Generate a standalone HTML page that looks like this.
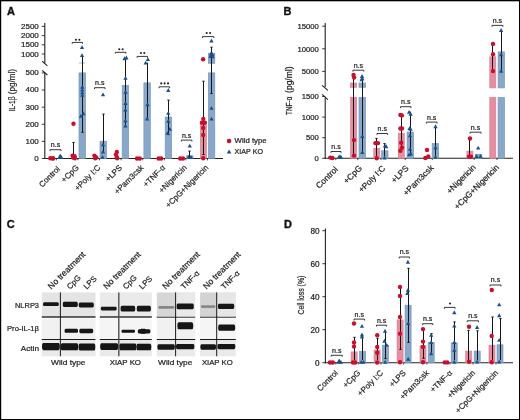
<!DOCTYPE html>
<html><head><meta charset="utf-8"><style>
html,body{margin:0;padding:0;background:#fff;}
body{width:520px;height:420px;overflow:hidden;}
svg{display:block;font-family:"Liberation Sans", sans-serif;will-change:transform;}
text{stroke:#1e1e1e;stroke-width:0.22px;}
text[font-weight=bold]{stroke-width:0.35px;stroke:#111;}
</style></head><body>
<svg width="520" height="420" viewBox="0 0 520 420">
<rect x="0" y="0" width="520" height="420" fill="#fff"/>
<text x="7.00" y="15.00" font-size="11" text-anchor="start" fill="#111" font-weight="bold" >A</text>
<text x="283.50" y="14.80" font-size="11" text-anchor="start" fill="#111" font-weight="bold" >B</text>
<text x="6.80" y="228.20" font-size="11" text-anchor="start" fill="#111" font-weight="bold" >C</text>
<text x="284.00" y="228.20" font-size="11" text-anchor="start" fill="#111" font-weight="bold" >D</text>
<line x1="44.80" y1="23.00" x2="44.80" y2="63.30" stroke="#222" stroke-width="1.1"/>
<line x1="42.10" y1="61.10" x2="47.40" y2="65.90" stroke="#222" stroke-width="1.1"/>
<line x1="42.10" y1="70.40" x2="47.40" y2="75.00" stroke="#222" stroke-width="1.1"/>
<line x1="44.80" y1="72.80" x2="44.80" y2="159.00" stroke="#222" stroke-width="1.1"/>
<line x1="44.30" y1="158.50" x2="223.00" y2="158.50" stroke="#222" stroke-width="1.1"/>
<line x1="41.80" y1="158.50" x2="44.80" y2="158.50" stroke="#222" stroke-width="0.9"/>
<text x="38.80" y="160.95" font-size="8" text-anchor="end" fill="#1e1e1e" >0</text>
<line x1="41.80" y1="141.38" x2="44.80" y2="141.38" stroke="#222" stroke-width="0.9"/>
<text x="38.80" y="143.83" font-size="8" text-anchor="end" fill="#1e1e1e" >100</text>
<line x1="41.80" y1="124.26" x2="44.80" y2="124.26" stroke="#222" stroke-width="0.9"/>
<text x="38.80" y="126.71" font-size="8" text-anchor="end" fill="#1e1e1e" >200</text>
<line x1="41.80" y1="107.14" x2="44.80" y2="107.14" stroke="#222" stroke-width="0.9"/>
<text x="38.80" y="109.59" font-size="8" text-anchor="end" fill="#1e1e1e" >300</text>
<line x1="41.80" y1="90.02" x2="44.80" y2="90.02" stroke="#222" stroke-width="0.9"/>
<text x="38.80" y="92.47" font-size="8" text-anchor="end" fill="#1e1e1e" >400</text>
<line x1="41.80" y1="72.90" x2="44.80" y2="72.90" stroke="#222" stroke-width="0.9"/>
<text x="38.80" y="75.35" font-size="8" text-anchor="end" fill="#1e1e1e" >500</text>
<line x1="41.80" y1="54.00" x2="44.80" y2="54.00" stroke="#222" stroke-width="0.9"/>
<text x="38.80" y="56.55" font-size="8" text-anchor="end" fill="#1e1e1e" >1000</text>
<line x1="41.80" y1="44.80" x2="44.80" y2="44.80" stroke="#222" stroke-width="0.9"/>
<text x="38.80" y="47.35" font-size="8" text-anchor="end" fill="#1e1e1e" >1500</text>
<line x1="41.80" y1="35.60" x2="44.80" y2="35.60" stroke="#222" stroke-width="0.9"/>
<text x="38.80" y="38.15" font-size="8" text-anchor="end" fill="#1e1e1e" >2000</text>
<line x1="41.80" y1="26.40" x2="44.80" y2="26.40" stroke="#222" stroke-width="0.9"/>
<text x="38.80" y="28.95" font-size="8" text-anchor="end" fill="#1e1e1e" >2500</text>
<text transform="translate(15.30,111.60) rotate(-90)" font-size="9.0" text-anchor="start" fill="#1e1e1e" textLength="15.2" lengthAdjust="spacingAndGlyphs" >IL-1β</text>
<text transform="translate(15.30,94.30) rotate(-90)" font-size="9.0" text-anchor="start" fill="#1e1e1e" textLength="25.4" lengthAdjust="spacingAndGlyphs" >(pg/ml)</text>
<line x1="56.30" y1="158.50" x2="56.30" y2="160.30" stroke="#222" stroke-width="0.8"/>
<line x1="77.90" y1="158.50" x2="77.90" y2="160.30" stroke="#222" stroke-width="0.8"/>
<line x1="99.50" y1="158.50" x2="99.50" y2="160.30" stroke="#222" stroke-width="0.8"/>
<line x1="121.10" y1="158.50" x2="121.10" y2="160.30" stroke="#222" stroke-width="0.8"/>
<line x1="142.70" y1="158.50" x2="142.70" y2="160.30" stroke="#222" stroke-width="0.8"/>
<line x1="164.30" y1="158.50" x2="164.30" y2="160.30" stroke="#222" stroke-width="0.8"/>
<line x1="185.90" y1="158.50" x2="185.90" y2="160.30" stroke="#222" stroke-width="0.8"/>
<line x1="207.50" y1="158.50" x2="207.50" y2="160.30" stroke="#222" stroke-width="0.8"/>
<text transform="translate(60.50,169.40) rotate(-45)" font-size="8" text-anchor="end" fill="#1e1e1e" >Control</text>
<text transform="translate(79.30,168.10) rotate(-45)" font-size="8" text-anchor="end" fill="#1e1e1e" >+CpG</text>
<text transform="translate(100.90,168.10) rotate(-45)" font-size="8" text-anchor="end" fill="#1e1e1e" >+Poly I:C</text>
<text transform="translate(122.50,168.10) rotate(-45)" font-size="8" text-anchor="end" fill="#1e1e1e" >+LPS</text>
<text transform="translate(144.10,168.10) rotate(-45)" font-size="8" text-anchor="end" fill="#1e1e1e" >+Pam3csk</text>
<text transform="translate(165.70,168.10) rotate(-45)" font-size="8" text-anchor="end" fill="#1e1e1e" >+TNF-α</text>
<text transform="translate(187.30,168.10) rotate(-45)" font-size="8" text-anchor="end" fill="#1e1e1e" >+Nigericin</text>
<text transform="translate(208.90,168.10) rotate(-45)" font-size="8" text-anchor="end" fill="#1e1e1e" >+CpG+Nigericin</text>
<circle cx="50.30" cy="158.30" r="2.2" fill="#c8102e"/>
<circle cx="52.80" cy="158.60" r="2.2" fill="#c8102e"/>
<circle cx="53.00" cy="158.20" r="2.2" fill="#c8102e"/>
<path d="M60.20,153.58 L62.35,157.45 L58.05,157.45Z" fill="#1d4f8c"/>
<path d="M59.60,155.18 L61.75,159.05 L57.45,159.05Z" fill="#1d4f8c"/>
<path d="M61.40,155.18 L63.55,159.05 L59.25,159.05Z" fill="#1d4f8c"/>
<path d="M50.00,151.10 L50.00,149.70 L61.00,149.70 L61.00,151.10" fill="none" stroke="#222" stroke-width="0.9"/>
<text x="55.50" y="147.30" font-size="7" text-anchor="middle" fill="#1e1e1e" >n.s</text>
<line x1="73.50" y1="142.50" x2="73.50" y2="157.50" stroke="#151515" stroke-width="1.0"/>
<line x1="72.35" y1="142.50" x2="74.65" y2="142.50" stroke="#151515" stroke-width="1.0"/>
<circle cx="73.50" cy="123.75" r="2.2" fill="#c8102e"/>
<circle cx="72.60" cy="155.60" r="2.2" fill="#c8102e"/>
<circle cx="74.60" cy="156.20" r="2.2" fill="#c8102e"/>
<circle cx="73.20" cy="157.60" r="2.2" fill="#c8102e"/>
<circle cx="74.80" cy="158.20" r="2.2" fill="#c8102e"/>
<rect x="79.00" y="72.90" width="6.40" height="85.60" fill="#89a8c9" stroke="#7397bd" stroke-width="0.7" />
<rect x="79.00" y="62.40" width="6.40" height="1.20" fill="#b5c8de" />
<line x1="82.50" y1="55.80" x2="82.50" y2="132.30" stroke="#151515" stroke-width="1.0"/>
<line x1="81.35" y1="132.30" x2="83.65" y2="132.30" stroke="#151515" stroke-width="1.0"/>
<path d="M82.00,45.18 L84.15,49.05 L79.85,49.05Z" fill="#1d4f8c"/>
<path d="M82.00,53.18 L84.15,57.05 L79.85,57.05Z" fill="#1d4f8c"/>
<path d="M82.30,84.78 L84.45,88.65 L80.15,88.65Z" fill="#1d4f8c"/>
<path d="M82.30,87.68 L84.45,91.55 L80.15,91.55Z" fill="#1d4f8c"/>
<path d="M82.30,90.48 L84.45,94.35 L80.15,94.35Z" fill="#1d4f8c"/>
<path d="M82.30,92.88 L84.45,96.75 L80.15,96.75Z" fill="#1d4f8c"/>
<path d="M80.90,113.88 L83.05,117.75 L78.75,117.75Z" fill="#1d4f8c"/>
<path d="M83.40,111.28 L85.55,115.15 L81.25,115.15Z" fill="#1d4f8c"/>
<path d="M72.20,43.80 L72.20,42.40 L82.50,42.40 L82.50,43.80" fill="none" stroke="#222" stroke-width="0.9"/>
<circle cx="75.95" cy="39.70" r="1.05" fill="#222"/>
<circle cx="79.35" cy="39.70" r="1.05" fill="#222"/>
<circle cx="94.40" cy="155.60" r="2.2" fill="#c8102e"/>
<circle cx="96.30" cy="157.40" r="2.2" fill="#c8102e"/>
<circle cx="95.20" cy="158.30" r="2.2" fill="#c8102e"/>
<rect x="100.00" y="141.25" width="6.40" height="17.25" fill="#89a8c9" stroke="#7397bd" stroke-width="0.7" />
<line x1="103.50" y1="114.10" x2="103.50" y2="152.00" stroke="#151515" stroke-width="1.0"/>
<line x1="102.35" y1="114.10" x2="104.65" y2="114.10" stroke="#151515" stroke-width="1.0"/>
<path d="M103.00,92.48 L105.15,96.35 L100.85,96.35Z" fill="#1d4f8c"/>
<path d="M103.00,142.48 L105.15,146.35 L100.85,146.35Z" fill="#1d4f8c"/>
<path d="M103.00,149.68 L105.15,153.55 L100.85,153.55Z" fill="#1d4f8c"/>
<path d="M102.50,154.98 L104.65,158.85 L100.35,158.85Z" fill="#1d4f8c"/>
<path d="M94.50,89.10 L94.50,87.70 L105.00,87.70 L105.00,89.10" fill="none" stroke="#222" stroke-width="0.9"/>
<text x="99.75" y="85.10" font-size="7" text-anchor="middle" fill="#1e1e1e" >n.s</text>
<circle cx="116.80" cy="152.00" r="2.2" fill="#c8102e"/>
<circle cx="115.90" cy="154.60" r="2.2" fill="#c8102e"/>
<circle cx="116.80" cy="157.30" r="2.2" fill="#c8102e"/>
<circle cx="117.20" cy="158.30" r="2.2" fill="#c8102e"/>
<rect x="122.20" y="85.50" width="6.40" height="73.00" fill="#89a8c9" stroke="#7397bd" stroke-width="0.7" />
<line x1="125.50" y1="58.60" x2="125.50" y2="126.50" stroke="#151515" stroke-width="1.0"/>
<path d="M124.60,56.28 L126.75,60.15 L122.45,60.15Z" fill="#1d4f8c"/>
<path d="M126.40,55.58 L128.55,59.45 L124.25,59.45Z" fill="#1d4f8c"/>
<path d="M125.50,75.88 L127.65,79.75 L123.35,79.75Z" fill="#1d4f8c"/>
<path d="M125.50,89.78 L127.65,93.65 L123.35,93.65Z" fill="#1d4f8c"/>
<path d="M125.50,101.08 L127.65,104.95 L123.35,104.95Z" fill="#1d4f8c"/>
<path d="M125.40,107.68 L127.55,111.55 L123.25,111.55Z" fill="#1d4f8c"/>
<path d="M125.40,118.38 L127.55,122.25 L123.25,122.25Z" fill="#1d4f8c"/>
<path d="M125.40,123.68 L127.55,127.55 L123.25,127.55Z" fill="#1d4f8c"/>
<path d="M115.40,53.70 L115.40,52.30 L125.90,52.30 L125.90,53.70" fill="none" stroke="#222" stroke-width="0.9"/>
<circle cx="119.25" cy="49.30" r="1.05" fill="#222"/>
<circle cx="122.65" cy="49.30" r="1.05" fill="#222"/>
<circle cx="137.00" cy="158.50" r="2.2" fill="#c8102e"/>
<circle cx="139.80" cy="158.50" r="2.2" fill="#c8102e"/>
<rect x="143.90" y="82.90" width="6.40" height="75.60" fill="#89a8c9" stroke="#7397bd" stroke-width="0.7" />
<line x1="147.50" y1="62.70" x2="147.50" y2="118.90" stroke="#151515" stroke-width="1.0"/>
<path d="M147.90,57.18 L150.05,61.05 L145.75,61.05Z" fill="#1d4f8c"/>
<path d="M145.70,60.68 L147.85,64.55 L143.55,64.55Z" fill="#1d4f8c"/>
<path d="M147.50,102.28 L149.65,106.15 L145.35,106.15Z" fill="#1d4f8c"/>
<path d="M147.10,116.58 L149.25,120.45 L144.95,120.45Z" fill="#1d4f8c"/>
<path d="M137.10,57.80 L137.10,56.40 L147.50,56.40 L147.50,57.80" fill="none" stroke="#222" stroke-width="0.9"/>
<circle cx="140.90" cy="53.00" r="1.05" fill="#222"/>
<circle cx="144.30" cy="53.00" r="1.05" fill="#222"/>
<circle cx="158.60" cy="158.50" r="2.2" fill="#c8102e"/>
<circle cx="161.20" cy="158.50" r="2.2" fill="#c8102e"/>
<rect x="165.20" y="117.00" width="6.40" height="41.50" fill="#89a8c9" stroke="#7397bd" stroke-width="0.7" />
<line x1="168.50" y1="100.10" x2="168.50" y2="134.60" stroke="#151515" stroke-width="1.0"/>
<line x1="167.35" y1="100.10" x2="169.65" y2="100.10" stroke="#151515" stroke-width="1.0"/>
<line x1="167.35" y1="134.60" x2="169.65" y2="134.60" stroke="#151515" stroke-width="1.0"/>
<path d="M168.30,88.08 L170.45,91.95 L166.15,91.95Z" fill="#1d4f8c"/>
<path d="M168.30,110.98 L170.45,114.85 L166.15,114.85Z" fill="#1d4f8c"/>
<path d="M168.30,118.98 L170.45,122.85 L166.15,122.85Z" fill="#1d4f8c"/>
<path d="M169.90,126.98 L172.05,130.85 L167.75,130.85Z" fill="#1d4f8c"/>
<path d="M167.50,130.98 L169.65,134.85 L165.35,134.85Z" fill="#1d4f8c"/>
<path d="M159.10,88.20 L159.10,86.80 L169.60,86.80 L169.60,88.20" fill="none" stroke="#222" stroke-width="0.9"/>
<circle cx="161.25" cy="83.40" r="1.05" fill="#222"/>
<circle cx="164.65" cy="83.40" r="1.05" fill="#222"/>
<circle cx="168.05" cy="83.40" r="1.05" fill="#222"/>
<circle cx="180.20" cy="158.50" r="2.2" fill="#c8102e"/>
<circle cx="183.00" cy="158.50" r="2.2" fill="#c8102e"/>
<rect x="186.60" y="155.80" width="6.40" height="2.70" fill="#89a8c9" stroke="#7397bd" stroke-width="0.7" />
<line x1="189.50" y1="151.10" x2="189.50" y2="157.00" stroke="#151515" stroke-width="1.0"/>
<line x1="188.35" y1="151.10" x2="190.65" y2="151.10" stroke="#151515" stroke-width="1.0"/>
<path d="M189.80,143.68 L191.95,147.55 L187.65,147.55Z" fill="#1d4f8c"/>
<path d="M188.60,154.88 L190.75,158.75 L186.45,158.75Z" fill="#1d4f8c"/>
<path d="M191.00,154.88 L193.15,158.75 L188.85,158.75Z" fill="#1d4f8c"/>
<path d="M181.40,141.50 L181.40,140.10 L191.90,140.10 L191.90,141.50" fill="none" stroke="#222" stroke-width="0.9"/>
<text x="186.65" y="137.50" font-size="7" text-anchor="middle" fill="#1e1e1e" >n.s</text>
<rect x="200.40" y="125.00" width="6.00" height="33.50" fill="#e48ea0" stroke="#da7e92" stroke-width="0.7" />
<line x1="203.50" y1="81.20" x2="203.50" y2="154.50" stroke="#151515" stroke-width="1.0"/>
<line x1="202.35" y1="81.20" x2="204.65" y2="81.20" stroke="#151515" stroke-width="1.0"/>
<line x1="202.35" y1="154.50" x2="204.65" y2="154.50" stroke="#151515" stroke-width="1.0"/>
<circle cx="203.10" cy="59.20" r="2.2" fill="#c8102e"/>
<circle cx="203.30" cy="118.90" r="2.2" fill="#c8102e"/>
<circle cx="201.90" cy="122.70" r="2.2" fill="#c8102e"/>
<circle cx="204.90" cy="122.70" r="2.2" fill="#c8102e"/>
<circle cx="203.20" cy="128.00" r="2.2" fill="#c8102e"/>
<circle cx="203.20" cy="135.00" r="2.2" fill="#c8102e"/>
<circle cx="203.20" cy="158.20" r="2.2" fill="#c8102e"/>
<rect x="208.40" y="72.90" width="6.40" height="85.60" fill="#89a8c9" stroke="#7397bd" stroke-width="0.7" />
<rect x="208.40" y="53.30" width="6.40" height="10.00" fill="#89a8c9" stroke="#7397bd" stroke-width="0.7" />
<line x1="211.50" y1="47.20" x2="211.50" y2="93.60" stroke="#151515" stroke-width="1.0"/>
<line x1="210.35" y1="47.20" x2="212.65" y2="47.20" stroke="#151515" stroke-width="1.0"/>
<line x1="210.35" y1="93.60" x2="212.65" y2="93.60" stroke="#151515" stroke-width="1.0"/>
<path d="M211.50,38.58 L213.65,42.45 L209.35,42.45Z" fill="#1d4f8c"/>
<path d="M211.00,51.58 L213.15,55.45 L208.85,55.45Z" fill="#1d4f8c"/>
<path d="M212.30,52.08 L214.45,55.95 L210.15,55.95Z" fill="#1d4f8c"/>
<path d="M211.60,53.28 L213.75,57.15 L209.45,57.15Z" fill="#1d4f8c"/>
<path d="M210.60,54.08 L212.75,57.95 L208.45,57.95Z" fill="#1d4f8c"/>
<path d="M212.60,54.28 L214.75,58.15 L210.45,58.15Z" fill="#1d4f8c"/>
<path d="M211.50,105.98 L213.65,109.85 L209.35,109.85Z" fill="#1d4f8c"/>
<path d="M211.50,116.68 L213.65,120.55 L209.35,120.55Z" fill="#1d4f8c"/>
<path d="M202.40,38.00 L202.40,36.60 L213.80,36.60 L213.80,38.00" fill="none" stroke="#222" stroke-width="0.9"/>
<circle cx="206.70" cy="33.00" r="1.05" fill="#222"/>
<circle cx="210.10" cy="33.00" r="1.05" fill="#222"/>
<circle cx="229.10" cy="141.00" r="2.3" fill="#c8102e"/>
<text x="234.60" y="143.40" font-size="7.2" text-anchor="start" fill="#1e1e1e" textLength="32.0" lengthAdjust="spacingAndGlyphs" >Wild type</text>
<path d="M229.10,149.42 L231.40,153.56 L226.80,153.56Z" fill="#1d4f8c"/>
<text x="234.60" y="154.40" font-size="7.1" text-anchor="start" fill="#1e1e1e" textLength="28.4" lengthAdjust="spacingAndGlyphs" >XIAP KO</text>
<line x1="325.20" y1="23.00" x2="325.20" y2="87.10" stroke="#222" stroke-width="1.1"/>
<line x1="322.10" y1="85.40" x2="327.90" y2="90.40" stroke="#222" stroke-width="1.1"/>
<line x1="322.10" y1="94.30" x2="327.90" y2="99.60" stroke="#222" stroke-width="1.1"/>
<line x1="325.20" y1="97.90" x2="325.20" y2="158.80" stroke="#222" stroke-width="1.1"/>
<line x1="324.70" y1="158.30" x2="513.00" y2="158.30" stroke="#222" stroke-width="1.1"/>
<line x1="322.20" y1="158.30" x2="325.20" y2="158.30" stroke="#222" stroke-width="0.9"/>
<text x="318.80" y="161.00" font-size="7.7" text-anchor="end" fill="#1e1e1e" >0</text>
<line x1="322.20" y1="137.70" x2="325.20" y2="137.70" stroke="#222" stroke-width="0.9"/>
<text x="318.80" y="140.40" font-size="7.7" text-anchor="end" fill="#1e1e1e" >500</text>
<line x1="322.20" y1="117.10" x2="325.20" y2="117.10" stroke="#222" stroke-width="0.9"/>
<text x="318.80" y="119.80" font-size="7.7" text-anchor="end" fill="#1e1e1e" >1000</text>
<line x1="322.20" y1="96.50" x2="325.20" y2="96.50" stroke="#222" stroke-width="0.9"/>
<text x="318.80" y="99.20" font-size="7.7" text-anchor="end" fill="#1e1e1e" >1500</text>
<line x1="322.20" y1="71.40" x2="325.20" y2="71.40" stroke="#222" stroke-width="0.9"/>
<text x="318.80" y="74.10" font-size="7.7" text-anchor="end" fill="#1e1e1e" >5000</text>
<line x1="322.20" y1="48.80" x2="325.20" y2="48.80" stroke="#222" stroke-width="0.9"/>
<text x="318.80" y="51.50" font-size="7.7" text-anchor="end" fill="#1e1e1e" >10000</text>
<line x1="322.20" y1="26.20" x2="325.20" y2="26.20" stroke="#222" stroke-width="0.9"/>
<text x="318.80" y="28.90" font-size="7.7" text-anchor="end" fill="#1e1e1e" >15000</text>
<text transform="translate(292.30,115.00) rotate(-90)" font-size="9.4" text-anchor="start" fill="#1e1e1e" textLength="18.4" lengthAdjust="spacingAndGlyphs" >TNF-α</text>
<text transform="translate(292.30,92.90) rotate(-90)" font-size="9.4" text-anchor="start" fill="#1e1e1e" textLength="26.4" lengthAdjust="spacingAndGlyphs" >(pg/ml)</text>
<line x1="335.80" y1="158.30" x2="335.80" y2="160.10" stroke="#222" stroke-width="0.8"/>
<line x1="357.80" y1="158.30" x2="357.80" y2="160.10" stroke="#222" stroke-width="0.8"/>
<line x1="381.00" y1="158.30" x2="381.00" y2="160.10" stroke="#222" stroke-width="0.8"/>
<line x1="405.20" y1="158.30" x2="405.20" y2="160.10" stroke="#222" stroke-width="0.8"/>
<line x1="432.30" y1="158.30" x2="432.30" y2="160.10" stroke="#222" stroke-width="0.8"/>
<line x1="474.20" y1="158.30" x2="474.20" y2="160.10" stroke="#222" stroke-width="0.8"/>
<line x1="497.00" y1="158.30" x2="497.00" y2="160.10" stroke="#222" stroke-width="0.8"/>
<text transform="translate(338.40,169.90) rotate(-45)" font-size="8.4" text-anchor="end" fill="#1e1e1e" >Control</text>
<text transform="translate(362.50,168.70) rotate(-45)" font-size="8.4" text-anchor="end" fill="#1e1e1e" >+CpG</text>
<text transform="translate(385.90,168.90) rotate(-45)" font-size="8.4" text-anchor="end" fill="#1e1e1e" >+Poly I:C</text>
<text transform="translate(409.10,168.90) rotate(-45)" font-size="8.4" text-anchor="end" fill="#1e1e1e" >+LPS</text>
<text transform="translate(434.20,168.40) rotate(-45)" font-size="8.4" text-anchor="end" fill="#1e1e1e" >+Pam3csk</text>
<text transform="translate(476.40,167.90) rotate(-45)" font-size="8.4" text-anchor="end" fill="#1e1e1e" >+Nigericin</text>
<text transform="translate(499.60,167.90) rotate(-45)" font-size="8.4" text-anchor="end" fill="#1e1e1e" >+CpG+Nigericin</text>
<circle cx="330.30" cy="157.60" r="2.2" fill="#c8102e"/>
<circle cx="332.40" cy="158.00" r="2.2" fill="#c8102e"/>
<path d="M339.00,154.68 L341.15,158.55 L336.85,158.55Z" fill="#1d4f8c"/>
<path d="M341.00,154.98 L343.15,158.85 L338.85,158.85Z" fill="#1d4f8c"/>
<path d="M340.00,154.28 L342.15,158.15 L337.85,158.15Z" fill="#1d4f8c"/>
<path d="M331.00,152.90 L331.00,151.50 L341.00,151.50 L341.00,152.90" fill="none" stroke="#222" stroke-width="0.9"/>
<text x="336.00" y="148.90" font-size="7" text-anchor="middle" fill="#1e1e1e" >n.s</text>
<rect x="350.60" y="97.40" width="6.00" height="60.90" fill="#e48ea0" stroke="#da7e92" stroke-width="0.7" />
<rect x="350.60" y="83.00" width="6.00" height="4.30" fill="#e48ea0" stroke="#da7e92" stroke-width="0.7" />
<rect x="359.00" y="97.40" width="6.40" height="60.90" fill="#89a8c9" stroke="#7397bd" stroke-width="0.7" />
<rect x="359.00" y="83.00" width="6.40" height="4.30" fill="#89a8c9" stroke="#7397bd" stroke-width="0.7" />
<line x1="353.50" y1="75.00" x2="353.50" y2="156.00" stroke="#151515" stroke-width="1.0"/>
<line x1="362.50" y1="76.00" x2="362.50" y2="153.00" stroke="#151515" stroke-width="1.0"/>
<circle cx="353.50" cy="75.00" r="2.2" fill="#c8102e"/>
<circle cx="354.10" cy="77.60" r="2.2" fill="#c8102e"/>
<circle cx="354.00" cy="140.10" r="2.2" fill="#c8102e"/>
<circle cx="354.00" cy="155.60" r="2.2" fill="#c8102e"/>
<path d="M362.00,74.08 L364.15,77.95 L359.85,77.95Z" fill="#1d4f8c"/>
<path d="M362.30,76.28 L364.45,80.15 L360.15,80.15Z" fill="#1d4f8c"/>
<path d="M361.60,77.28 L363.75,81.15 L359.45,81.15Z" fill="#1d4f8c"/>
<path d="M362.30,134.18 L364.45,138.05 L360.15,138.05Z" fill="#1d4f8c"/>
<path d="M362.30,150.08 L364.45,153.95 L360.15,153.95Z" fill="#1d4f8c"/>
<path d="M352.90,71.60 L352.90,70.20 L363.80,70.20 L363.80,71.60" fill="none" stroke="#222" stroke-width="0.9"/>
<text x="358.35" y="67.50" font-size="7" text-anchor="middle" fill="#1e1e1e" >n.s</text>
<rect x="373.80" y="148.40" width="6.00" height="9.90" fill="#e48ea0" stroke="#da7e92" stroke-width="0.7" />
<rect x="381.60" y="150.80" width="6.40" height="7.50" fill="#89a8c9" stroke="#7397bd" stroke-width="0.7" />
<line x1="376.50" y1="138.40" x2="376.50" y2="156.00" stroke="#151515" stroke-width="1.0"/>
<line x1="375.35" y1="138.40" x2="377.65" y2="138.40" stroke="#151515" stroke-width="1.0"/>
<line x1="384.50" y1="143.60" x2="384.50" y2="156.00" stroke="#151515" stroke-width="1.0"/>
<line x1="383.35" y1="143.60" x2="385.65" y2="143.60" stroke="#151515" stroke-width="1.0"/>
<circle cx="375.40" cy="143.10" r="2.2" fill="#c8102e"/>
<circle cx="378.00" cy="143.10" r="2.2" fill="#c8102e"/>
<circle cx="376.70" cy="158.30" r="2.2" fill="#c8102e"/>
<path d="M385.00,143.68 L387.15,147.55 L382.85,147.55Z" fill="#1d4f8c"/>
<path d="M386.20,144.28 L388.35,148.15 L384.05,148.15Z" fill="#1d4f8c"/>
<path d="M384.60,155.68 L386.75,159.55 L382.45,159.55Z" fill="#1d4f8c"/>
<path d="M377.00,134.90 L377.00,133.50 L387.50,133.50 L387.50,134.90" fill="none" stroke="#222" stroke-width="0.9"/>
<text x="382.25" y="130.90" font-size="7" text-anchor="middle" fill="#1e1e1e" >n.s</text>
<rect x="398.30" y="133.30" width="6.00" height="25.00" fill="#e48ea0" stroke="#da7e92" stroke-width="0.7" />
<rect x="407.10" y="132.00" width="6.40" height="26.30" fill="#89a8c9" stroke="#7397bd" stroke-width="0.7" />
<line x1="401.50" y1="114.90" x2="401.50" y2="151.00" stroke="#151515" stroke-width="1.0"/>
<line x1="410.50" y1="111.70" x2="410.50" y2="155.00" stroke="#151515" stroke-width="1.0"/>
<circle cx="400.40" cy="114.90" r="2.2" fill="#c8102e"/>
<circle cx="401.90" cy="115.40" r="2.2" fill="#c8102e"/>
<circle cx="400.40" cy="128.50" r="2.2" fill="#c8102e"/>
<circle cx="402.00" cy="128.50" r="2.2" fill="#c8102e"/>
<circle cx="401.20" cy="142.80" r="2.2" fill="#c8102e"/>
<circle cx="402.00" cy="147.60" r="2.2" fill="#c8102e"/>
<circle cx="400.40" cy="150.80" r="2.2" fill="#c8102e"/>
<path d="M409.10,109.88 L411.25,113.75 L406.95,113.75Z" fill="#1d4f8c"/>
<path d="M410.60,111.78 L412.75,115.65 L408.45,115.65Z" fill="#1d4f8c"/>
<path d="M409.50,126.18 L411.65,130.05 L407.35,130.05Z" fill="#1d4f8c"/>
<path d="M410.60,126.98 L412.75,130.85 L408.45,130.85Z" fill="#1d4f8c"/>
<path d="M410.00,133.38 L412.15,137.25 L407.85,137.25Z" fill="#1d4f8c"/>
<path d="M410.00,146.88 L412.15,150.75 L407.85,150.75Z" fill="#1d4f8c"/>
<path d="M409.10,152.48 L411.25,156.35 L406.95,156.35Z" fill="#1d4f8c"/>
<path d="M410.90,151.68 L413.05,155.55 L408.75,155.55Z" fill="#1d4f8c"/>
<path d="M400.50,108.10 L400.50,106.70 L411.00,106.70 L411.00,108.10" fill="none" stroke="#222" stroke-width="0.9"/>
<text x="405.75" y="104.10" font-size="7" text-anchor="middle" fill="#1e1e1e" >n.s</text>
<circle cx="427.00" cy="150.00" r="2.2" fill="#c8102e"/>
<circle cx="425.40" cy="158.00" r="2.2" fill="#c8102e"/>
<circle cx="428.30" cy="156.40" r="2.2" fill="#c8102e"/>
<rect x="432.20" y="143.60" width="6.40" height="14.70" fill="#89a8c9" stroke="#7397bd" stroke-width="0.7" />
<line x1="435.50" y1="126.60" x2="435.50" y2="156.00" stroke="#151515" stroke-width="1.0"/>
<path d="M435.50,124.28 L437.65,128.15 L433.35,128.15Z" fill="#1d4f8c"/>
<path d="M435.50,145.28 L437.65,149.15 L433.35,149.15Z" fill="#1d4f8c"/>
<path d="M435.50,154.88 L437.65,158.75 L433.35,158.75Z" fill="#1d4f8c"/>
<path d="M426.40,123.50 L426.40,122.10 L437.00,122.10 L437.00,123.50" fill="none" stroke="#222" stroke-width="0.9"/>
<text x="431.70" y="119.50" font-size="7" text-anchor="middle" fill="#1e1e1e" >n.s</text>
<rect x="466.90" y="151.20" width="6.00" height="7.10" fill="#e48ea0" stroke="#da7e92" stroke-width="0.7" />
<rect x="475.40" y="154.20" width="6.40" height="4.10" fill="#89a8c9" stroke="#7397bd" stroke-width="0.7" />
<line x1="469.50" y1="138.50" x2="469.50" y2="156.00" stroke="#151515" stroke-width="1.0"/>
<circle cx="470.00" cy="138.50" r="2.2" fill="#c8102e"/>
<circle cx="469.00" cy="156.80" r="2.2" fill="#c8102e"/>
<circle cx="471.00" cy="156.80" r="2.2" fill="#c8102e"/>
<path d="M478.20,145.68 L480.35,149.55 L476.05,149.55Z" fill="#1d4f8c"/>
<path d="M476.50,154.08 L478.65,157.95 L474.35,157.95Z" fill="#1d4f8c"/>
<path d="M480.50,154.08 L482.65,157.95 L478.35,157.95Z" fill="#1d4f8c"/>
<path d="M470.00,133.60 L470.00,132.20 L481.00,132.20 L481.00,133.60" fill="none" stroke="#222" stroke-width="0.9"/>
<text x="475.50" y="129.60" font-size="7" text-anchor="middle" fill="#1e1e1e" >n.s</text>
<rect x="489.80" y="97.50" width="6.00" height="60.80" fill="#e48ea0" stroke="#da7e92" stroke-width="0.7" />
<rect x="489.80" y="56.80" width="6.00" height="31.10" fill="#e48ea0" stroke="#da7e92" stroke-width="0.7" />
<rect x="498.10" y="97.50" width="6.40" height="60.80" fill="#89a8c9" stroke="#7397bd" stroke-width="0.7" />
<rect x="498.10" y="51.90" width="6.40" height="36.00" fill="#89a8c9" stroke="#7397bd" stroke-width="0.7" />
<line x1="492.50" y1="43.90" x2="492.50" y2="71.10" stroke="#151515" stroke-width="1.0"/>
<line x1="501.50" y1="30.40" x2="501.50" y2="71.10" stroke="#151515" stroke-width="1.0"/>
<circle cx="493.00" cy="43.90" r="2.2" fill="#c8102e"/>
<circle cx="493.00" cy="54.20" r="2.2" fill="#c8102e"/>
<circle cx="493.00" cy="71.10" r="2.2" fill="#c8102e"/>
<path d="M501.10,28.08 L503.25,31.95 L498.95,31.95Z" fill="#1d4f8c"/>
<path d="M501.10,52.28 L503.25,56.15 L498.95,56.15Z" fill="#1d4f8c"/>
<path d="M501.10,68.78 L503.25,72.65 L498.95,72.65Z" fill="#1d4f8c"/>
<path d="M492.00,26.80 L492.00,25.40 L502.90,25.40 L502.90,26.80" fill="none" stroke="#222" stroke-width="0.9"/>
<text x="497.45" y="22.80" font-size="7" text-anchor="middle" fill="#1e1e1e" >n.s</text>
<line x1="325.40" y1="228.60" x2="325.40" y2="363.20" stroke="#222" stroke-width="1.1"/>
<line x1="324.90" y1="362.70" x2="513.00" y2="362.70" stroke="#222" stroke-width="1.1"/>
<line x1="322.40" y1="362.70" x2="325.40" y2="362.70" stroke="#222" stroke-width="0.9"/>
<text x="319.60" y="365.60" font-size="8.2" text-anchor="end" fill="#1e1e1e" >0</text>
<line x1="322.40" y1="329.70" x2="325.40" y2="329.70" stroke="#222" stroke-width="0.9"/>
<text x="319.60" y="332.60" font-size="8.2" text-anchor="end" fill="#1e1e1e" >20</text>
<line x1="322.40" y1="296.70" x2="325.40" y2="296.70" stroke="#222" stroke-width="0.9"/>
<text x="319.60" y="299.60" font-size="8.2" text-anchor="end" fill="#1e1e1e" >40</text>
<line x1="322.40" y1="263.70" x2="325.40" y2="263.70" stroke="#222" stroke-width="0.9"/>
<text x="319.60" y="266.60" font-size="8.2" text-anchor="end" fill="#1e1e1e" >60</text>
<line x1="322.40" y1="230.70" x2="325.40" y2="230.70" stroke="#222" stroke-width="0.9"/>
<text x="319.60" y="233.60" font-size="8.2" text-anchor="end" fill="#1e1e1e" >80</text>
<text transform="translate(304.30,314.60) rotate(-90)" font-size="9.2" text-anchor="start" fill="#1e1e1e" textLength="39.0" lengthAdjust="spacingAndGlyphs" >Cell loss (%)</text>
<line x1="335.80" y1="362.70" x2="335.80" y2="364.50" stroke="#222" stroke-width="0.8"/>
<line x1="358.30" y1="362.70" x2="358.30" y2="364.50" stroke="#222" stroke-width="0.8"/>
<line x1="381.00" y1="362.70" x2="381.00" y2="364.50" stroke="#222" stroke-width="0.8"/>
<line x1="403.70" y1="362.70" x2="403.70" y2="364.50" stroke="#222" stroke-width="0.8"/>
<line x1="426.80" y1="362.70" x2="426.80" y2="364.50" stroke="#222" stroke-width="0.8"/>
<line x1="450.00" y1="362.70" x2="450.00" y2="364.50" stroke="#222" stroke-width="0.8"/>
<line x1="473.00" y1="362.70" x2="473.00" y2="364.50" stroke="#222" stroke-width="0.8"/>
<line x1="496.00" y1="362.70" x2="496.00" y2="364.50" stroke="#222" stroke-width="0.8"/>
<text transform="translate(338.50,373.40) rotate(-45)" font-size="8.0" text-anchor="end" fill="#1e1e1e" >Control</text>
<text transform="translate(361.00,373.40) rotate(-45)" font-size="8.0" text-anchor="end" fill="#1e1e1e" >+CpG</text>
<text transform="translate(383.70,373.40) rotate(-45)" font-size="8.0" text-anchor="end" fill="#1e1e1e" >+Poly I:C</text>
<text transform="translate(406.40,373.40) rotate(-45)" font-size="8.0" text-anchor="end" fill="#1e1e1e" >+LPS</text>
<text transform="translate(429.50,373.40) rotate(-45)" font-size="8.0" text-anchor="end" fill="#1e1e1e" >+Pam3csk</text>
<text transform="translate(452.70,373.40) rotate(-45)" font-size="8.0" text-anchor="end" fill="#1e1e1e" >+TNF-α</text>
<text transform="translate(475.70,373.40) rotate(-45)" font-size="8.0" text-anchor="end" fill="#1e1e1e" >+Nigericin</text>
<text transform="translate(498.70,373.40) rotate(-45)" font-size="8.0" text-anchor="end" fill="#1e1e1e" >+CpG+Nigericin</text>
<circle cx="330.00" cy="362.50" r="2.2" fill="#c8102e"/>
<circle cx="332.80" cy="362.50" r="2.2" fill="#c8102e"/>
<path d="M339.20,358.58 L341.35,362.45 L337.05,362.45Z" fill="#1d4f8c"/>
<path d="M338.60,359.98 L340.75,363.85 L336.45,363.85Z" fill="#1d4f8c"/>
<path d="M340.90,359.98 L343.05,363.85 L338.75,363.85Z" fill="#1d4f8c"/>
<path d="M331.20,356.70 L331.20,355.30 L342.30,355.30 L342.30,356.70" fill="none" stroke="#222" stroke-width="0.9"/>
<text x="336.75" y="352.70" font-size="7" text-anchor="middle" fill="#1e1e1e" >n.s</text>
<rect x="351.10" y="351.90" width="6.00" height="10.80" fill="#e48ea0" stroke="#da7e92" stroke-width="0.7" />
<rect x="359.50" y="351.40" width="6.00" height="11.30" fill="#89a8c9" stroke="#7397bd" stroke-width="0.7" />
<line x1="354.50" y1="337.30" x2="354.50" y2="360.00" stroke="#151515" stroke-width="1.0"/>
<line x1="353.35" y1="337.30" x2="355.65" y2="337.30" stroke="#151515" stroke-width="1.0"/>
<line x1="362.50" y1="335.50" x2="362.50" y2="360.00" stroke="#151515" stroke-width="1.0"/>
<circle cx="354.00" cy="323.50" r="2.2" fill="#c8102e"/>
<circle cx="354.00" cy="342.50" r="2.2" fill="#c8102e"/>
<circle cx="354.00" cy="346.60" r="2.2" fill="#c8102e"/>
<circle cx="353.00" cy="362.50" r="2.2" fill="#c8102e"/>
<circle cx="355.20" cy="362.50" r="2.2" fill="#c8102e"/>
<path d="M362.00,323.98 L364.15,327.85 L359.85,327.85Z" fill="#1d4f8c"/>
<path d="M362.00,332.58 L364.15,336.45 L359.85,336.45Z" fill="#1d4f8c"/>
<path d="M362.00,334.68 L364.15,338.55 L359.85,338.55Z" fill="#1d4f8c"/>
<path d="M361.30,359.88 L363.45,363.75 L359.15,363.75Z" fill="#1d4f8c"/>
<path d="M363.50,359.88 L365.65,363.75 L361.35,363.75Z" fill="#1d4f8c"/>
<path d="M354.00,320.50 L354.00,319.10 L364.50,319.10 L364.50,320.50" fill="none" stroke="#222" stroke-width="0.9"/>
<text x="359.25" y="316.50" font-size="7" text-anchor="middle" fill="#1e1e1e" >n.s</text>
<rect x="374.10" y="350.00" width="6.00" height="12.70" fill="#e48ea0" stroke="#da7e92" stroke-width="0.7" />
<rect x="382.40" y="345.20" width="6.00" height="17.50" fill="#89a8c9" stroke="#7397bd" stroke-width="0.7" />
<line x1="377.50" y1="338.30" x2="377.50" y2="360.00" stroke="#151515" stroke-width="1.0"/>
<line x1="376.35" y1="338.30" x2="378.65" y2="338.30" stroke="#151515" stroke-width="1.0"/>
<line x1="385.50" y1="331.10" x2="385.50" y2="358.60" stroke="#151515" stroke-width="1.0"/>
<line x1="384.35" y1="358.60" x2="386.65" y2="358.60" stroke="#151515" stroke-width="1.0"/>
<circle cx="377.20" cy="335.30" r="2.2" fill="#c8102e"/>
<circle cx="377.20" cy="347.00" r="2.2" fill="#c8102e"/>
<circle cx="377.20" cy="352.80" r="2.2" fill="#c8102e"/>
<circle cx="377.20" cy="362.50" r="2.2" fill="#c8102e"/>
<path d="M385.00,328.78 L387.15,332.65 L382.85,332.65Z" fill="#1d4f8c"/>
<path d="M384.40,338.78 L386.55,342.65 L382.25,342.65Z" fill="#1d4f8c"/>
<path d="M386.70,342.88 L388.85,346.75 L384.55,346.75Z" fill="#1d4f8c"/>
<path d="M385.20,359.88 L387.35,363.75 L383.05,363.75Z" fill="#1d4f8c"/>
<path d="M376.50,326.60 L376.50,325.20 L386.70,325.20 L386.70,326.60" fill="none" stroke="#222" stroke-width="0.9"/>
<text x="381.60" y="322.60" font-size="7" text-anchor="middle" fill="#1e1e1e" >n.s</text>
<rect x="397.10" y="319.90" width="6.00" height="42.80" fill="#e48ea0" stroke="#da7e92" stroke-width="0.7" />
<rect x="405.10" y="305.20" width="6.00" height="57.50" fill="#89a8c9" stroke="#7397bd" stroke-width="0.7" />
<line x1="400.50" y1="287.00" x2="400.50" y2="349.40" stroke="#151515" stroke-width="1.0"/>
<line x1="399.35" y1="349.40" x2="401.65" y2="349.40" stroke="#151515" stroke-width="1.0"/>
<line x1="408.50" y1="268.30" x2="408.50" y2="342.40" stroke="#151515" stroke-width="1.0"/>
<line x1="407.35" y1="268.30" x2="409.65" y2="268.30" stroke="#151515" stroke-width="1.0"/>
<line x1="407.35" y1="342.40" x2="409.65" y2="342.40" stroke="#151515" stroke-width="1.0"/>
<circle cx="400.00" cy="286.90" r="2.2" fill="#c8102e"/>
<circle cx="400.00" cy="296.00" r="2.2" fill="#c8102e"/>
<circle cx="400.00" cy="317.00" r="2.2" fill="#c8102e"/>
<circle cx="400.00" cy="333.70" r="2.2" fill="#c8102e"/>
<circle cx="400.00" cy="362.30" r="2.2" fill="#c8102e"/>
<path d="M407.90,259.78 L410.05,263.65 L405.75,263.65Z" fill="#1d4f8c"/>
<path d="M407.90,287.98 L410.05,291.85 L405.75,291.85Z" fill="#1d4f8c"/>
<path d="M407.40,291.08 L409.55,294.95 L405.25,294.95Z" fill="#1d4f8c"/>
<path d="M408.20,321.18 L410.35,325.05 L406.05,325.05Z" fill="#1d4f8c"/>
<path d="M408.20,356.78 L410.35,360.65 L406.05,360.65Z" fill="#1d4f8c"/>
<path d="M399.20,258.40 L399.20,257.00 L409.50,257.00 L409.50,258.40" fill="none" stroke="#222" stroke-width="0.9"/>
<text x="404.35" y="254.40" font-size="7" text-anchor="middle" fill="#1e1e1e" >n.s</text>
<rect x="420.00" y="345.70" width="6.00" height="17.00" fill="#e48ea0" stroke="#da7e92" stroke-width="0.7" />
<rect x="428.20" y="342.40" width="6.00" height="20.30" fill="#89a8c9" stroke="#7397bd" stroke-width="0.7" />
<line x1="423.50" y1="329.10" x2="423.50" y2="358.30" stroke="#151515" stroke-width="1.0"/>
<line x1="422.35" y1="358.30" x2="424.65" y2="358.30" stroke="#151515" stroke-width="1.0"/>
<line x1="431.50" y1="333.70" x2="431.50" y2="353.80" stroke="#151515" stroke-width="1.0"/>
<line x1="430.35" y1="333.70" x2="432.65" y2="333.70" stroke="#151515" stroke-width="1.0"/>
<circle cx="423.00" cy="329.10" r="2.2" fill="#c8102e"/>
<circle cx="423.00" cy="341.60" r="2.2" fill="#c8102e"/>
<circle cx="423.00" cy="347.00" r="2.2" fill="#c8102e"/>
<circle cx="423.00" cy="362.30" r="2.2" fill="#c8102e"/>
<path d="M431.20,332.98 L433.35,336.85 L429.05,336.85Z" fill="#1d4f8c"/>
<path d="M431.20,340.08 L433.35,343.95 L429.05,343.95Z" fill="#1d4f8c"/>
<path d="M431.20,351.48 L433.35,355.35 L429.05,355.35Z" fill="#1d4f8c"/>
<path d="M422.60,325.10 L422.60,323.70 L432.80,323.70 L432.80,325.10" fill="none" stroke="#222" stroke-width="0.9"/>
<text x="427.70" y="321.10" font-size="7" text-anchor="middle" fill="#1e1e1e" >n.s</text>
<circle cx="444.70" cy="362.40" r="2.2" fill="#c8102e"/>
<circle cx="447.30" cy="362.40" r="2.2" fill="#c8102e"/>
<rect x="451.20" y="342.90" width="6.00" height="19.80" fill="#89a8c9" stroke="#7397bd" stroke-width="0.7" />
<line x1="454.50" y1="321.90" x2="454.50" y2="360.00" stroke="#151515" stroke-width="1.0"/>
<line x1="453.35" y1="321.90" x2="455.65" y2="321.90" stroke="#151515" stroke-width="1.0"/>
<path d="M454.30,310.28 L456.45,314.15 L452.15,314.15Z" fill="#1d4f8c"/>
<path d="M454.30,323.68 L456.45,327.55 L452.15,327.55Z" fill="#1d4f8c"/>
<path d="M454.30,340.08 L456.45,343.95 L452.15,343.95Z" fill="#1d4f8c"/>
<path d="M454.30,347.88 L456.45,351.75 L452.15,351.75Z" fill="#1d4f8c"/>
<path d="M454.30,359.88 L456.45,363.75 L452.15,363.75Z" fill="#1d4f8c"/>
<path d="M444.40,308.80 L444.40,307.40 L455.00,307.40 L455.00,308.80" fill="none" stroke="#222" stroke-width="0.9"/>
<circle cx="450.00" cy="303.50" r="1.05" fill="#222"/>
<rect x="465.70" y="351.10" width="6.00" height="11.60" fill="#e48ea0" stroke="#da7e92" stroke-width="0.7" />
<rect x="474.20" y="351.10" width="6.00" height="11.60" fill="#89a8c9" stroke="#7397bd" stroke-width="0.7" />
<line x1="468.50" y1="330.40" x2="468.50" y2="360.00" stroke="#151515" stroke-width="1.0"/>
<line x1="467.35" y1="330.40" x2="469.65" y2="330.40" stroke="#151515" stroke-width="1.0"/>
<line x1="477.50" y1="330.80" x2="477.50" y2="360.00" stroke="#151515" stroke-width="1.0"/>
<line x1="476.35" y1="330.80" x2="478.65" y2="330.80" stroke="#151515" stroke-width="1.0"/>
<circle cx="469.00" cy="326.80" r="2.2" fill="#c8102e"/>
<circle cx="469.00" cy="361.80" r="2.2" fill="#c8102e"/>
<path d="M477.10,325.08 L479.25,328.95 L474.95,328.95Z" fill="#1d4f8c"/>
<path d="M477.10,359.68 L479.25,363.55 L474.95,363.55Z" fill="#1d4f8c"/>
<path d="M467.20,322.20 L467.20,320.80 L478.50,320.80 L478.50,322.20" fill="none" stroke="#222" stroke-width="0.9"/>
<text x="472.85" y="318.20" font-size="7" text-anchor="middle" fill="#1e1e1e" >n.s</text>
<rect x="489.00" y="345.20" width="6.00" height="17.50" fill="#e48ea0" stroke="#da7e92" stroke-width="0.7" />
<rect x="497.00" y="344.80" width="6.00" height="17.90" fill="#89a8c9" stroke="#7397bd" stroke-width="0.7" />
<line x1="492.50" y1="317.00" x2="492.50" y2="360.00" stroke="#151515" stroke-width="1.0"/>
<line x1="491.35" y1="317.00" x2="493.65" y2="317.00" stroke="#151515" stroke-width="1.0"/>
<line x1="500.50" y1="318.60" x2="500.50" y2="360.00" stroke="#151515" stroke-width="1.0"/>
<line x1="499.35" y1="318.60" x2="501.65" y2="318.60" stroke="#151515" stroke-width="1.0"/>
<circle cx="491.80" cy="290.00" r="2.2" fill="#c8102e"/>
<circle cx="491.70" cy="335.90" r="2.2" fill="#c8102e"/>
<circle cx="491.70" cy="362.20" r="2.2" fill="#c8102e"/>
<path d="M499.20,302.38 L501.35,306.25 L497.05,306.25Z" fill="#1d4f8c"/>
<path d="M499.20,313.28 L501.35,317.15 L497.05,317.15Z" fill="#1d4f8c"/>
<path d="M499.20,337.98 L501.35,341.85 L497.05,341.85Z" fill="#1d4f8c"/>
<path d="M499.20,359.68 L501.35,363.55 L497.05,363.55Z" fill="#1d4f8c"/>
<path d="M490.00,286.40 L490.00,285.00 L501.00,285.00 L501.00,286.40" fill="none" stroke="#222" stroke-width="0.9"/>
<text x="495.50" y="282.40" font-size="7" text-anchor="middle" fill="#1e1e1e" >n.s</text>
<defs><filter id="bl" x="-20%" y="-60%" width="140%" height="220%"><feGaussianBlur stdDeviation="0.45"/></filter><filter id="bl2" x="-20%" y="-60%" width="140%" height="220%"><feGaussianBlur stdDeviation="0.8"/></filter></defs>
<rect x="41.80" y="292.40" width="53.70" height="24.60" fill="#e4e4e4" />
<rect x="41.80" y="317.00" width="53.70" height="22.50" fill="#f1f1f1" />
<rect x="41.80" y="339.50" width="53.70" height="16.80" fill="#eaeaea" />
<rect x="41.80" y="317.70" width="53.70" height="1.30" fill="#fafafa" />
<line x1="41.80" y1="317.00" x2="95.50" y2="317.00" stroke="#333" stroke-width="1.5"/>
<line x1="41.80" y1="339.50" x2="95.50" y2="339.50" stroke="#1a1a1a" stroke-width="1.0"/>
<rect x="99.80" y="292.40" width="52.00" height="24.60" fill="#eaeaea" />
<rect x="99.80" y="317.00" width="52.00" height="22.50" fill="#f5f5f5" />
<rect x="99.80" y="339.50" width="52.00" height="16.80" fill="#eaeaea" />
<rect x="99.80" y="317.70" width="52.00" height="1.30" fill="#fafafa" />
<line x1="99.80" y1="317.00" x2="151.80" y2="317.00" stroke="#333" stroke-width="1.5"/>
<line x1="99.80" y1="339.50" x2="151.80" y2="339.50" stroke="#1a1a1a" stroke-width="1.0"/>
<rect x="156.80" y="292.40" width="38.40" height="24.60" fill="#e6e6e6" />
<rect x="156.80" y="317.00" width="38.40" height="22.50" fill="#f1f1f1" />
<rect x="156.80" y="339.50" width="38.40" height="16.80" fill="#eaeaea" />
<rect x="156.80" y="317.70" width="38.40" height="1.30" fill="#fafafa" />
<line x1="156.80" y1="317.00" x2="195.20" y2="317.00" stroke="#333" stroke-width="1.5"/>
<line x1="156.80" y1="339.50" x2="195.20" y2="339.50" stroke="#1a1a1a" stroke-width="1.0"/>
<rect x="200.00" y="292.40" width="35.80" height="24.60" fill="#e2e2e2" />
<rect x="200.00" y="317.00" width="35.80" height="22.50" fill="#f5f5f5" />
<rect x="200.00" y="339.50" width="35.80" height="16.80" fill="#eaeaea" />
<rect x="200.00" y="317.70" width="35.80" height="1.30" fill="#fafafa" />
<line x1="200.00" y1="317.00" x2="235.80" y2="317.00" stroke="#333" stroke-width="1.5"/>
<line x1="200.00" y1="339.50" x2="235.80" y2="339.50" stroke="#1a1a1a" stroke-width="1.0"/>
<rect x="157.00" y="292.70" width="18.20" height="24.00" fill="#d6d6d6" />
<rect x="200.20" y="292.70" width="16.20" height="24.00" fill="#d3d3d3" />
<rect x="176.20" y="292.70" width="18.80" height="24.00" fill="#e9e9e9" />
<rect x="217.20" y="292.70" width="18.40" height="24.00" fill="#e6e6e6" />
<rect x="43.00" y="302.15" width="15.80" height="3.90" rx="1.20" ry="1.56" fill="#141414" filter="url(#bl)"/>
<rect x="62.80" y="301.85" width="15.00" height="5.10" rx="1.20" ry="2.04" fill="#141414" filter="url(#bl)"/>
<rect x="78.80" y="302.55" width="15.00" height="4.90" rx="1.20" ry="1.96" fill="#141414" filter="url(#bl)"/>
<rect x="64.60" y="328.75" width="13.40" height="4.10" rx="1.20" ry="1.64" fill="#141414" filter="url(#bl)"/>
<rect x="79.30" y="328.65" width="13.90" height="4.50" rx="1.20" ry="1.80" fill="#141414" filter="url(#bl)"/>
<rect x="42.00" y="343.05" width="17.80" height="7.10" rx="1.20" ry="2.84" fill="#141414" filter="url(#bl)"/>
<rect x="60.80" y="343.25" width="17.40" height="7.10" rx="1.20" ry="2.84" fill="#141414" filter="url(#bl)"/>
<rect x="78.60" y="343.55" width="16.70" height="6.90" rx="1.20" ry="2.76" fill="#141414" filter="url(#bl)"/>
<rect x="100.80" y="306.85" width="15.90" height="3.70" rx="1.20" ry="1.48" fill="#141414" filter="url(#bl)"/>
<rect x="120.60" y="305.65" width="14.60" height="5.90" rx="1.20" ry="2.36" fill="#141414" filter="url(#bl)"/>
<rect x="136.80" y="305.65" width="14.10" height="5.90" rx="1.20" ry="2.36" fill="#141414" filter="url(#bl)"/>
<rect x="121.50" y="329.75" width="13.50" height="3.10" rx="1.20" ry="1.24" fill="#141414" filter="url(#bl)"/>
<rect x="137.80" y="329.25" width="12.60" height="4.30" rx="1.20" ry="1.72" fill="#141414" filter="url(#bl)"/>
<rect x="140.00" y="328.75" width="6.00" height="5.10" rx="1.20" ry="2.04" fill="#141414" filter="url(#bl)"/>
<rect x="100.20" y="343.35" width="18.00" height="6.70" rx="1.20" ry="2.68" fill="#141414" filter="url(#bl)"/>
<rect x="119.30" y="343.45" width="17.10" height="6.70" rx="1.20" ry="2.68" fill="#141414" filter="url(#bl)"/>
<rect x="136.50" y="343.65" width="14.80" height="6.70" rx="1.20" ry="2.68" fill="#141414" filter="url(#bl)"/>
<rect x="158.30" y="306.05" width="16.10" height="2.70" rx="1.20" ry="1.08" fill="#858585" filter="url(#bl)"/>
<rect x="176.60" y="303.45" width="17.20" height="5.90" rx="1.20" ry="2.36" fill="#141414" filter="url(#bl)"/>
<rect x="177.40" y="322.35" width="15.80" height="6.90" rx="1.20" ry="2.76" fill="#141414" filter="url(#bl)"/>
<rect x="157.40" y="344.15" width="17.40" height="5.50" rx="1.20" ry="2.20" fill="#141414" filter="url(#bl)"/>
<rect x="176.00" y="344.05" width="18.40" height="5.10" rx="1.20" ry="2.04" fill="#141414" filter="url(#bl)"/>
<rect x="200.80" y="305.25" width="14.60" height="2.70" rx="1.20" ry="1.08" fill="#888888" filter="url(#bl)"/>
<rect x="217.90" y="303.75" width="16.30" height="5.30" rx="1.20" ry="2.12" fill="#141414" filter="url(#bl)"/>
<rect x="218.20" y="324.45" width="17.00" height="6.30" rx="1.20" ry="2.52" fill="#141414" filter="url(#bl)"/>
<rect x="200.40" y="344.15" width="15.60" height="5.50" rx="1.20" ry="2.20" fill="#141414" filter="url(#bl)"/>
<rect x="217.40" y="344.05" width="17.90" height="5.10" rx="1.20" ry="2.04" fill="#141414" filter="url(#bl)"/>
<line x1="60.40" y1="292.40" x2="60.40" y2="356.30" stroke="#1a1a1a" stroke-width="1.0"/>
<line x1="118.80" y1="292.40" x2="118.80" y2="356.30" stroke="#505050" stroke-width="1.4"/>
<line x1="175.60" y1="292.40" x2="175.60" y2="356.30" stroke="#1a1a1a" stroke-width="1.0"/>
<line x1="216.70" y1="292.40" x2="216.70" y2="356.30" stroke="#1a1a1a" stroke-width="1.0"/>
<text x="39.00" y="308.20" font-size="8" text-anchor="end" fill="#1e1e1e" textLength="24.0" lengthAdjust="spacingAndGlyphs" >NLRP3</text>
<text x="39.00" y="331.00" font-size="8" text-anchor="end" fill="#1e1e1e" textLength="32.0" lengthAdjust="spacingAndGlyphs" >Pro-IL-1β</text>
<text x="39.00" y="350.60" font-size="8" text-anchor="end" fill="#1e1e1e" textLength="18.2" lengthAdjust="spacingAndGlyphs" >Actin</text>
<text transform="translate(51.30,289.70) rotate(-45)" font-size="8.5" text-anchor="start" fill="#1e1e1e" >No treatment</text>
<text transform="translate(69.90,289.70) rotate(-45)" font-size="7.9" text-anchor="start" fill="#1e1e1e" >CpG</text>
<text transform="translate(86.70,289.70) rotate(-45)" font-size="7.9" text-anchor="start" fill="#1e1e1e" >LPS</text>
<text transform="translate(106.70,289.70) rotate(-45)" font-size="8.5" text-anchor="start" fill="#1e1e1e" >No treatment</text>
<text transform="translate(125.90,289.70) rotate(-45)" font-size="7.9" text-anchor="start" fill="#1e1e1e" >CpG</text>
<text transform="translate(142.30,289.70) rotate(-45)" font-size="7.9" text-anchor="start" fill="#1e1e1e" >LPS</text>
<text transform="translate(165.70,289.70) rotate(-45)" font-size="8.5" text-anchor="start" fill="#1e1e1e" >No treatment</text>
<text transform="translate(184.10,289.70) rotate(-45)" font-size="7.9" text-anchor="start" fill="#1e1e1e" >TNF-α</text>
<text transform="translate(206.50,289.70) rotate(-45)" font-size="8.5" text-anchor="start" fill="#1e1e1e" >No treatment</text>
<text transform="translate(224.30,289.70) rotate(-45)" font-size="7.9" text-anchor="start" fill="#1e1e1e" >TNF-α</text>
<text x="51.10" y="365.20" font-size="8" text-anchor="start" fill="#1e1e1e" textLength="34.4" lengthAdjust="spacingAndGlyphs" >Wild type</text>
<text x="109.70" y="365.20" font-size="8" text-anchor="start" fill="#1e1e1e" textLength="31.3" lengthAdjust="spacingAndGlyphs" >XIAP KO</text>
<text x="158.10" y="365.20" font-size="8" text-anchor="start" fill="#1e1e1e" textLength="34.2" lengthAdjust="spacingAndGlyphs" >Wild type</text>
<text x="201.90" y="365.20" font-size="8" text-anchor="start" fill="#1e1e1e" textLength="30.8" lengthAdjust="spacingAndGlyphs" >XIAP KO</text>
<rect x="0" y="0" width="520" height="1.3" fill="#000"/><rect x="0" y="0" width="1.2" height="420" fill="#000"/><rect x="519" y="0" width="1" height="420" fill="#000"/><rect x="0" y="419" width="520" height="1" fill="#000"/>
</svg>
</body></html>
